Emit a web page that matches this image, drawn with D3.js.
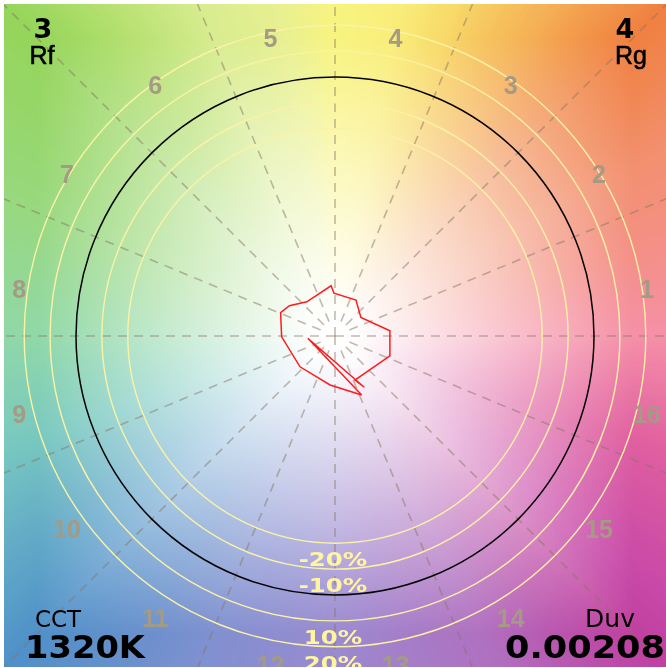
<!DOCTYPE html>
<html>
<head>
<meta charset="utf-8">
<script src="https://cdn.jsdelivr.net/npm/d3@7"></script>
<style>
body { margin: 0; background: #fff; }
#wrap { position: relative; width: 666px; height: 668px; }
#wrap canvas, #wrap svg { position: absolute; left: 0; top: 0; }
</style>
</head>
<body>
<div id="wrap">
<canvas id="bg" width="666" height="668"></canvas>
<svg width="666" height="668"></svg>
</div>
<script>
//Hue bin labels, counter-clockwise from the +a axis.
var binLabels = ['1','2','3','4','5','6','7','8','9','10','11','12','13','14','15','16'];
//Rings around the reference circle (0 = reference) and their labels.
var ringLevels = [-0.2, -0.1, 0, 0.1, 0.2];
var ringLabels = ['-20%', '-10%', '', '10%', '20%'];
//Sample polygon, normalised so that the reference circle has radius 1.
var sampleA = [-0.015, -0.004, 0.081, 0.100, 0.212, 0.212, 0.077, 0.113, -0.105, 0.103, -0.019, -0.135, -0.206, -0.210, -0.176, -0.109];
var sampleB = [0.194, 0.165, 0.139, 0.072, 0.020, -0.077, -0.170, -0.198, -0.009, -0.228, -0.189, -0.119, -0.003, 0.090, 0.117, 0.132];
//Backdrop hue stops (degrees, colour at the frame edge).
var hueAngles = [0, 14.6, 29.3, 45, 57, 70.9, 79, 90, 99.4, 112, 125, 135, 157.7, 180, 199, 218.6, 225, 247.8, 270, 296.5, 315, 321.4, 341, 360];
var hueColors = ['#f590a8', '#f49088', '#f29070', '#f08040', '#f5b055', '#f8dc6a', '#f9ed7a', '#f8f480', '#e8f090', '#d8ec90',
	'#b5e070', '#95d55a', '#98d880', '#90d8a8', '#78c8c0', '#5aa0c8', '#5090c8', '#8090d0', '#9a8ad0', '#b070c0',
	'#c040a0', '#c848a8', '#e060a0', '#f590a8'];
//Corner figures.
var rfValue = '3', rgValue = '4', cctValue = '1320K', duvValue = '0.00208';

var svg = d3.select('svg');
var ext = 1.278;
var frameL = 4, frameR = 666, frameT = 5, frameB = 667;
var x = d3.scaleLinear().domain([-ext, ext]).range([frameL, frameR]);
var y = d3.scaleLinear().domain([-ext, ext]).range([frameB, frameT]);
var unit = x(1) - x(0);

//Backdrop: hue by angle, washing to white toward the centre.
var hue = d3.scaleLinear().domain(hueAngles).range(hueColors).interpolate(d3.interpolateRgb);
var lut = [];
for (var k = 0; k <= 720; ++k) lut.push(d3.rgb(hue(k / 2)));
var canvas = document.getElementById('bg'), ctx = canvas.getContext('2d');
var img = ctx.createImageData(666, 668);
for (var py = 4; py < 667; ++py) {
	for (var px = 4; px < 666; ++px) {
		var u = x.invert(px + 0.5), v = y.invert(py + 0.5);
		var ang = Math.atan2(v, u) * 180 / Math.PI;
		if (ang < 0) ang += 360;
		var c = lut[Math.round(ang * 2)];
		var ratio = Math.max(Math.abs(u), Math.abs(v)) / ext;
		var s = Math.pow(Math.min(1, Math.max(0, (ratio - 0.05) / 0.85)), 1.05);
		var i4 = (py * 666 + px) * 4;
		img.data[i4] = 255 + (c.r - 255) * s;
		img.data[i4 + 1] = 255 + (c.g - 255) * s;
		img.data[i4 + 2] = 255 + (c.b - 255) * s;
		img.data[i4 + 3] = 255;
	}
}
ctx.putImageData(img, 0, 0);

svg.append('clipPath').attr('id', 'frame')
	.append('rect')
	.attr('x', frameL).attr('y', frameL)
	.attr('width', frameR - frameL).attr('height', frameB - frameL);
var g = svg.append('g').attr('clip-path', 'url(#frame)');

//Dashed hue bin dividers; the axes run through the centre, the others start a little out.
d3.range(16).forEach(function(i) {
	var a = i * Math.PI / 8, r0 = (i % 4 == 0) ? 0 : 0.06;
	g.append('line')
		.attr('x1', x(r0 * Math.cos(a))).attr('y1', y(r0 * Math.sin(a)))
		.attr('x2', x(2 * Math.cos(a))).attr('y2', y(2 * Math.sin(a)))
		.style('stroke', 'rgba(135,118,98,0.5)')
		.style('stroke-width', 1.6)
		.style('stroke-dasharray', '9,7');
});

//Rings.
ringLevels.forEach(function(d) {
	g.append('circle')
		.attr('cx', x(0)).attr('cy', y(0))
		.attr('r', (1 + d) * unit)
		.style('fill', 'none')
		.style('stroke', d == 0 ? '#000' : '#fbf2a6')
		.style('stroke-width', d == 0 ? 1.5 : 1.4);
});

//Stretch text horizontally by factor k.
function stretch(sel, k) {
	sel.each(function() {
		var w = this.getComputedTextLength();
		d3.select(this).attr('textLength', w * k).attr('lengthAdjust', 'spacingAndGlyphs');
	});
}

//Ring labels below each ring.
ringLevels.forEach(function(d, i) {
	if (!ringLabels[i]) return;
	g.append('text')
		.attr('x', x(0) - 2)
		.attr('y', y(-(1 + d)) + 23)
		.attr('text-anchor', 'middle')
		.style('font-family', 'DejaVu Sans')
		.style('font-weight', 'bold')
		.style('font-size', '20px')
		.style('fill', '#fff4a0')
		.text(ringLabels[i])
		.call(stretch, 1.22);
});

//Hue bin numbers.
binLabels.forEach(function(d, i) {
	var a = (i + 0.5) * Math.PI / 8, r = 1.2355;
	g.append('text')
		.attr('x', x(r * Math.cos(a)) - 2)
		.attr('y', y(r * Math.sin(a)) + 24.5)
		.attr('text-anchor', 'middle')
		.style('font-family', 'Liberation Sans')
		.style('font-weight', 'bold')
		.style('font-size', '25px')
		.style('fill', '#a59a84')
		.text(d);
});

//Sample polygon.
var pts = sampleA.map(function(d, i) { return [x(d), y(sampleB[i])]; });
g.append('path')
	.attr('d', d3.line().curve(d3.curveLinearClosed)(pts))
	.style('fill', 'none')
	.style('stroke', '#ff1c1c')
	.style('stroke-width', 1.5);

//Corner texts.
function label(t, xx, yy, anchor, family, size, weight) {
	return g.append('text')
		.attr('x', xx).attr('y', yy)
		.attr('text-anchor', anchor)
		.style('font-family', family)
		.style('font-size', size + 'px')
		.style('font-weight', weight)
		.style('fill', '#000')
		.text(t);
}
label(rfValue, 43, 38, 'middle', 'DejaVu Sans', 27, 'bold');
label('Rf', 42, 64, 'middle', 'Liberation Sans', 25, 'normal').style('stroke', '#000').style('stroke-width', 0.6);
label(rgValue, 625, 38, 'middle', 'DejaVu Sans', 27, 'bold');
label('Rg', 631, 64, 'middle', 'Liberation Sans', 25, 'normal').style('stroke', '#000').style('stroke-width', 0.6);
label('CCT', 58, 627, 'middle', 'DejaVu Sans', 23, 'normal');
label(cctValue, 25, 658, 'start', 'DejaVu Sans', 32, 'bold').attr('textLength', 120).attr('lengthAdjust', 'spacingAndGlyphs');
label('Duv', 610, 627, 'middle', 'DejaVu Sans', 25, 'normal');
label(duvValue, 505, 658, 'start', 'DejaVu Sans', 32, 'bold').attr('textLength', 160).attr('lengthAdjust', 'spacingAndGlyphs');
</script>
</body>
</html>
